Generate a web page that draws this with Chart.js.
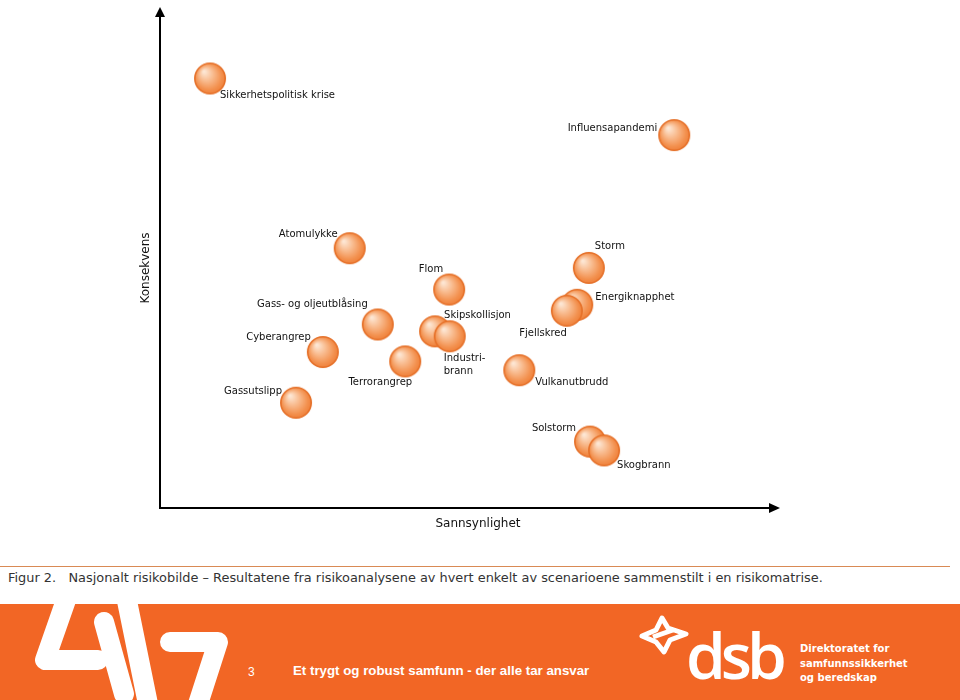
<!DOCTYPE html>
<html>
<head>
<meta charset="utf-8">
<script src="https://cdn.jsdelivr.net/npm/chart.js@4.4.1/dist/chart.umd.min.js"></script>
<style>
  html, body { margin: 0; padding: 0; background: #fff; width: 960px; height: 700px; overflow: hidden; }
  #wrap { position: absolute; left: 0; top: 0; width: 960px; height: 545px; }
  #rule { position: absolute; left: 0; top: 566px; width: 950px; height: 0; border-top: 1.5px solid #d98a55; }
  #caption { position: absolute; left: 8px; top: 570px; font: 12.9px "DejaVu Sans", Verdana, sans-serif; color: #333; white-space: pre; }
  #cream { position: absolute; left: 0; top: 568px; width: 960px; height: 36px; background: #fffdf8; z-index: -1; }
  #footer { position: absolute; left: 0; top: 604px; width: 960px; height: 96px; background: #f26625; }
  #pagenum { position: absolute; left: 248px; top: 61px; font: 12px "Liberation Sans", Arial, sans-serif; color: #fff; }
  #slogan { position: absolute; left: 293px; top: 59px; font: bold 13.3px "Liberation Sans", Arial, sans-serif; color: #fff; }
  #dsb { position: absolute; left: 686px; top: 19px; font: 600 64px/64px "Open Sans", "DejaVu Sans", sans-serif; color: #fff; letter-spacing: -5px; }
  #dir { position: absolute; left: 800px; top: 38px; font: bold 10px "DejaVu Sans", sans-serif; color: #fff; line-height: 14.5px; }
</style>
</head>
<body>
<div id="wrap"><canvas id="riskChart" width="960" height="545"></canvas></div>
<div id="cream"></div>
<div id="rule"></div>
<div id="caption">Figur 2.   Nasjonalt risikobilde – Resultatene fra risikoanalysene av hvert enkelt av scenarioene sammenstilt i en risikomatrise.</div>
<div id="footer">
  <svg width="960" height="96" style="position:absolute;left:0;top:0">
    <g stroke="#fff" stroke-width="20" fill="none" stroke-linejoin="round" stroke-linecap="round">
      <polyline points="66,-4 45,56 98,56" />
      <polyline points="104,18 124,90" />
      <polyline points="126,-8 148,100" />
      <polyline points="170,38 218,38 198,100" />
    </g>
    <g stroke="#fff" stroke-width="5" fill="none" stroke-linejoin="round">
      <path d="M662,14 L668,24 L686,30 L670,36 L664,48 L656,38 L642,32 L656,26 Z" />
      <line x1="653" y1="33" x2="673" y2="26" />
    </g>
  </svg>
  <div id="pagenum">3</div>
  <div id="slogan">Et trygt og robust samfunn - der alle tar ansvar</div>
  <div id="dsb">dsb</div>
  <div id="dir">Direktoratet for<br>samfunnssikkerhet<br>og beredskap</div>
</div>
<script>
// scenarios, drawn back to front (overlapping bubbles)
const scenarios = [
  'Sikkerhetspolitisk krise', 'Influensapandemi', 'Atomulykke', 'Storm', 'Flom',
  'Energiknapphet', 'Fjellskred', 'Gass- og oljeutblåsing', 'Skipskollisjon',
  'Industri-\nbrann', 'Cyberangrep', 'Terrorangrep', 'Vulkanutbrudd',
  'Gassutslipp', 'Solstorm', 'Skogbrann'
];
// Sannsynlighet (likelihood), 0-100
const likelihood = [8.2, 84.3, 31.1, 70.3, 47.4, 68.4, 66.7, 35.7, 45.1, 47.5, 26.7, 40.2, 58.9, 22.3, 70.5, 72.8];
// Konsekvens (consequence), 0-100
const consequence = [87.3, 75.8, 52.8, 48.8, 44.4, 41.3, 40.1, 37.3, 35.9, 34.9, 31.7, 29.8, 28.0, 21.4, 13.5, 11.7];

// where each label sits relative to its bubble
const labelPlacement = [
  { dx: 10, dy: 17, align: 'left' },
  { dx: -17, dy: -7, align: 'right' },
  { dx: -12, dy: -14, align: 'right' },
  { dx: 6, dy: -21, align: 'left' },
  { dx: -6, dy: -20, align: 'right' },
  { dx: 18, dy: -7, align: 'left' },
  { dx: 0, dy: 23, align: 'right' },
  { dx: -10, dy: -20, align: 'right' },
  { dx: 9, dy: -16, align: 'left' },
  { dx: -6, dy: 22, align: 'left' },
  { dx: -12, dy: -15, align: 'right' },
  { dx: 7, dy: 21, align: 'right' },
  { dx: 16, dy: 12, align: 'left' },
  { dx: -14, dy: -11, align: 'right' },
  { dx: -14, dy: -13, align: 'right' },
  { dx: 13, dy: 15, align: 'left' }
];

// shaded orange bubble used as point style
function makeBubble() {
  const c = document.createElement('canvas');
  c.width = 34; c.height = 34;
  const g = c.getContext('2d');
  const grad = g.createRadialGradient(11, 10, 1, 17, 17, 17);
  grad.addColorStop(0, '#fde6d3');
  grad.addColorStop(0.35, '#f9be93');
  grad.addColorStop(0.75, '#f3914f');
  grad.addColorStop(1, '#ee7a33');
  g.beginPath();
  g.arc(17, 17, 15.2, 0, Math.PI * 2);
  g.fillStyle = grad;
  g.fill();
  g.lineWidth = 1.6;
  g.strokeStyle = '#e56f27';
  g.stroke();
  return c;
}

const points = scenarios.map((name, i) => ({ x: likelihood[i], y: consequence[i] }));

const riskPlugin = {
  id: 'riskPlugin',
  afterDraw(chart) {
    const ctx = chart.ctx;
    const area = chart.chartArea;
    ctx.save();
    // arrow heads
    ctx.fillStyle = '#000';
    ctx.beginPath();
    ctx.moveTo(area.right + 10, area.bottom);
    ctx.lineTo(area.right - 1, area.bottom - 5);
    ctx.lineTo(area.right - 1, area.bottom + 5);
    ctx.closePath();
    ctx.fill();
    ctx.beginPath();
    ctx.moveTo(area.left, area.top - 9);
    ctx.lineTo(area.left - 5, area.top + 1);
    ctx.lineTo(area.left + 5, area.top + 1);
    ctx.closePath();
    ctx.fill();

    // labels
    const meta = chart.getDatasetMeta(0);
    ctx.font = '10px "DejaVu Sans", Verdana, sans-serif';
    ctx.fillStyle = '#111';
    ctx.textBaseline = 'middle';
    meta.data.forEach((pt, i) => {
      const p = labelPlacement[i];
      ctx.textAlign = p.align;
      scenarios[i].split('\n').forEach((line, k) => {
        ctx.fillText(line, pt.x + p.dx, pt.y + p.dy + k * 13);
      });
    });

    // axis titles
    ctx.font = '12px "DejaVu Sans", Verdana, sans-serif';
    ctx.textAlign = 'center';
    ctx.fillText('Sannsynlighet', 478, area.bottom + 16);
    ctx.translate(146, 268);
    ctx.rotate(-Math.PI / 2);
    ctx.fillText('Konsekvens', 0, 0);
    ctx.restore();
  }
};

new Chart(document.getElementById('riskChart'), {
  type: 'scatter',
  data: {
    datasets: [{
      label: 'Scenarier',
      data: points,
      pointStyle: makeBubble(),
      pointRadius: 15
    }]
  },
  options: {
    responsive: false,
    animation: false,
    events: [],
    layout: { padding: { left: 160, right: 190, top: 7, bottom: 37 } },
    plugins: { legend: { display: false }, tooltip: { enabled: false } },
    scales: {
      x: {
        type: 'linear', min: 0, max: 100,
        ticks: { display: false },
        grid: { display: false, drawTicks: false },
        border: { display: true, color: '#000', width: 2 }
      },
      y: {
        type: 'linear', min: 0, max: 100,
        ticks: { display: false },
        grid: { display: false, drawTicks: false },
        border: { display: true, color: '#000', width: 2 }
      }
    }
  },
  plugins: [riskPlugin]
});
</script>
</body>
</html>
